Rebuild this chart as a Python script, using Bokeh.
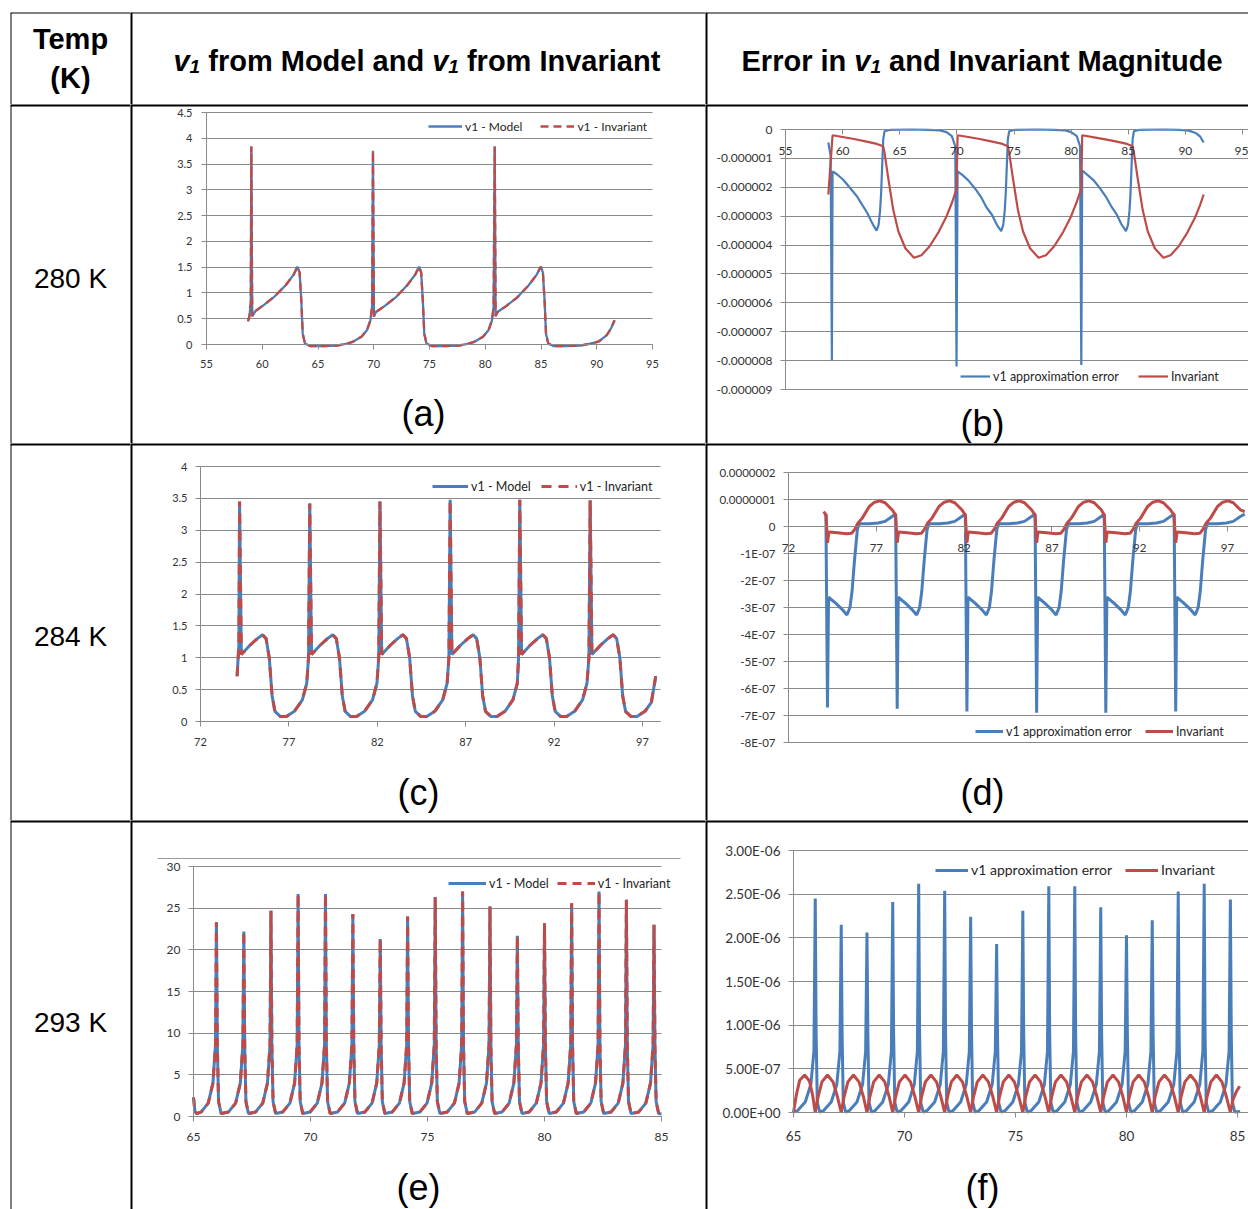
from bokeh.plotting import figure
from bokeh.models import (Range1d, FixedTicker, CustomJSTickFormatter, Label, Legend,
                          LegendItem, Span, Grid)
from bokeh.layouts import column, row
from bokeh.embed import file_html
from bokeh.resources import INLINE

# ---------------------------------------------------------------- data
# (a) 280 K : v1 from model / invariant
a_xticks = [55, 60, 65, 70, 75, 80, 85, 90, 95]
a_yticks = [0, 0.5, 1, 1.5, 2, 2.5, 3, 3.5, 4, 4.5]
a_ylabels = ["0", "0.5", "1", "1.5", "2", "2.5", "3", "3.5", "4", "4.5"]
a_x = [58.72, 58.85, 58.97, 59.02, 59.10, 59.20, 59.40, 60.10, 61.10, 62.10, 62.80, 63.15, 63.35,
       63.50, 63.63, 63.83, 64.30, 65.50, 66.70, 67.50, 68.10, 68.90, 69.40, 69.70, 69.85,
       69.93, 70.02, 70.20, 71.00, 72.00, 73.00, 73.70, 74.07, 74.25, 74.40, 74.53, 74.73, 75.20,
       76.40, 77.60, 78.40, 79.00, 79.80, 80.30, 80.60, 80.75,
       80.85, 80.93, 81.10, 81.90, 82.90, 83.90, 84.60, 84.98, 85.17, 85.32, 85.45, 85.65, 86.10,
       87.30, 88.50, 89.30, 89.90, 90.20, 90.90, 91.30, 91.60]
a_model = [0.45, 0.55, 0.80, 3.84, 0.55, 0.58, 0.65, 0.76, 0.93, 1.15, 1.35, 1.51, 1.40,
           0.86, 0.21, 0.02, -0.03, -0.03, -0.02, 0.01, 0.05, 0.15, 0.28, 0.47, 0.73,
           3.76, 0.54, 0.63, 0.75, 0.92, 1.15, 1.35, 1.51, 1.40, 0.86, 0.21, 0.02, -0.03,
           -0.03, -0.02, 0.01, 0.05, 0.15, 0.28, 0.47, 0.73,
           3.84, 0.55, 0.63, 0.75, 0.92, 1.15, 1.35, 1.51, 1.40, 0.86, 0.21, 0.02, -0.03,
           -0.03, -0.02, 0.01, 0.04, 0.06, 0.18, 0.32, 0.47]
a_invariant = list(a_model)          # the two curves coincide within the line width

# (b) 280 K : error in v1 and invariant (values read in units of 1e-6)
b_xticks = [55, 60, 65, 70, 75, 80, 85, 90, 95]
b_yticks = [0, -1e-6, -2e-6, -3e-6, -4e-6, -5e-6, -6e-6, -7e-6, -8e-6, -9e-6]
b_ylabels = ["0", "-0.000001", "-0.000002", "-0.000003", "-0.000004", "-0.000005",
             "-0.000006", "-0.000007", "-0.000008", "-0.000009"]
b_err_x = [58.75, 58.95, 59.06, 59.12, 59.5, 60.05, 60.6, 61.25, 61.7, 62.16, 62.6, 62.97, 63.15,
           63.28, 63.37, 63.46, 63.55, 63.67, 64.2, 66.0, 67.5, 68.5, 69.1, 69.56, 69.86, 69.97,
           70.06, 70.5, 71.0, 71.6, 72.15, 72.6, 73.07, 73.5, 73.88, 74.06, 74.19, 74.28, 74.37,
           74.46, 74.58, 75.1, 77.0, 78.5, 79.5, 80.0, 80.5, 80.78, 80.89,
           80.97, 81.4, 81.95, 82.5, 83.05, 83.5, 84.0, 84.4, 84.8, 84.98, 85.11, 85.2, 85.29,
           85.38, 85.5, 86.0, 88.0, 89.5, 90.3, 90.9, 91.3, 91.6]
b_err_u = [-0.45, -0.9, -8.0, -1.45, -1.55, -1.74, -2.0, -2.31, -2.6, -2.89, -3.25, -3.5, -3.3,
           -2.8, -2.2, -1.27, -0.35, -0.06, -0.01, 0.0, -0.01, -0.03, -0.09, -0.23, -0.58, -8.2,
           -1.45, -1.58, -1.76, -2.05, -2.36, -2.7, -2.95, -3.3, -3.52, -3.3, -2.8, -2.2, -1.27,
           -0.35, -0.06, -0.01, 0.0, -0.01, -0.03, -0.09, -0.23, -0.58, -8.15,
           -1.42, -1.56, -1.75, -2.02, -2.33, -2.65, -2.95, -3.28, -3.52, -3.3, -2.8, -2.2, -1.27,
           -0.35, -0.06, -0.01, 0.0, -0.01, -0.04, -0.12, -0.25, -0.45]
b_inv_x = [58.75, 59.12, 60.0, 61.0, 62.0, 63.0, 63.55, 63.67, 63.97, 64.43, 64.88, 65.49, 66.24,
           66.9, 67.6, 68.4, 69.1, 69.6, 69.97,
           70.06, 71.0, 72.0, 73.0, 74.0, 74.46, 74.58, 74.88, 75.34, 75.79, 76.4, 77.15, 77.8,
           78.5, 79.3, 80.0, 80.5, 80.89,
           80.97, 82.0, 83.0, 84.0, 84.9, 85.38, 85.5, 85.8, 86.26, 86.71, 87.32, 88.07, 88.7,
           89.4, 90.2, 90.9, 91.3, 91.6]
b_inv_u = [-2.25, -0.2, -0.26, -0.33, -0.41, -0.5, -0.58, -0.81, -1.62, -2.78, -3.53, -4.11, -4.44,
           -4.35, -4.05, -3.55, -3.0, -2.5, -2.05,
           -0.2, -0.26, -0.33, -0.41, -0.5, -0.58, -0.81, -1.62, -2.78, -3.53, -4.11, -4.44, -4.35,
           -4.05, -3.55, -3.0, -2.5, -2.05,
           -0.2, -0.27, -0.34, -0.42, -0.5, -0.58, -0.81, -1.62, -2.78, -3.53, -4.11, -4.44, -4.35,
           -4.05, -3.55, -3.0, -2.6, -2.25]

# (c) 284 K : v1 from model / invariant
c_xticks = [72, 77, 82, 87, 92, 97]
c_yticks = [0, 0.5, 1, 1.5, 2, 2.5, 3, 3.5, 4]
c_ylabels = ["0", "0.5", "1", "1.5", "2", "2.5", "3", "3.5", "4"]
c_x = [74.07, 74.17, 74.21, 74.31, 74.81, 75.21, 75.51, 75.71, 75.89, 76.05, 76.21, 76.51, 76.86,
       77.31, 77.76, 78.01, 78.11,
       78.18, 78.28, 78.78, 79.18, 79.48, 79.68, 79.86, 80.02, 80.18, 80.48, 80.83, 81.28, 81.73,
       81.98, 82.08,
       82.15, 82.25, 82.75, 83.15, 83.45, 83.65, 83.83, 83.99, 84.15, 84.45, 84.80, 85.25, 85.70,
       85.95, 86.05,
       86.12, 86.22, 86.72, 87.12, 87.42, 87.62, 87.80, 87.96, 88.12, 88.42, 88.77, 89.22, 89.67,
       89.92, 89.99,
       90.06, 90.16, 90.66, 91.06, 91.36, 91.56, 91.74, 91.90, 92.06, 92.36, 92.71, 93.16, 93.61,
       93.86, 93.97,
       94.04, 94.14, 94.64, 95.04, 95.34, 95.54, 95.72, 95.88, 96.04, 96.34, 96.69, 97.14, 97.50,
       97.75]
c_model = [0.71, 1.2, 3.45, 1.05, 1.2, 1.3, 1.36, 1.3, 1.0, 0.4, 0.16, 0.08, 0.08, 0.16, 0.34,
           0.6, 1.0,
           3.42, 1.05, 1.2, 1.3, 1.36, 1.3, 1.0, 0.4, 0.16, 0.08, 0.08, 0.16, 0.34, 0.6, 1.0,
           3.45, 1.05, 1.2, 1.3, 1.36, 1.3, 1.0, 0.4, 0.16, 0.08, 0.08, 0.16, 0.34, 0.6, 1.0,
           3.48, 1.05, 1.2, 1.3, 1.36, 1.3, 1.0, 0.4, 0.16, 0.08, 0.08, 0.16, 0.34, 0.6, 1.0,
           3.48, 1.05, 1.2, 1.3, 1.36, 1.3, 1.0, 0.4, 0.16, 0.08, 0.08, 0.16, 0.34, 0.6, 1.0,
           3.47, 1.05, 1.2, 1.3, 1.36, 1.3, 1.0, 0.4, 0.16, 0.08, 0.08, 0.16, 0.3, 0.71]
c_invariant = list(c_model)

# (d) 284 K : error in v1 and invariant (values read in units of 1e-7)
d_xticks = [72, 77, 82, 87, 92, 97]
d_yticks = [2e-7, 1e-7, 0, -1e-7, -2e-7, -3e-7, -4e-7, -5e-7, -6e-7, -7e-7, -8e-7]
d_ylabels = ["0.0000002", "0.0000001", "0", "-1E-07", "-2E-07", "-3E-07", "-4E-07", "-5E-07",
             "-6E-07", "-7E-07", "-8E-07"]
d_err_x = [74.02, 74.13, 74.22, 74.28, 74.70, 75.10, 75.33, 75.50, 75.62, 75.76, 75.92, 76.03,
           76.60, 77.10, 77.50, 77.90, 78.10,
           78.19, 78.25, 78.67, 79.07, 79.30, 79.47, 79.59, 79.73, 79.89, 80.00, 80.57, 81.07,
           81.47, 81.87, 82.07,
           82.16, 82.22, 82.64, 83.04, 83.27, 83.44, 83.56, 83.70, 83.86, 83.97, 84.54, 85.04,
           85.44, 85.84, 86.04,
           86.13, 86.19, 86.61, 87.01, 87.24, 87.41, 87.53, 87.67, 87.83, 87.94, 88.51, 89.01,
           89.41, 89.81, 89.98,
           90.07, 90.13, 90.55, 90.95, 91.18, 91.35, 91.47, 91.61, 91.77, 91.88, 92.45, 92.95,
           93.35, 93.75, 93.96,
           94.05, 94.11, 94.53, 94.93, 95.16, 95.33, 95.45, 95.59, 95.75, 95.86, 96.43, 96.93,
           97.33, 97.73, 97.98]
d_err_u = [0.45, 0.46, -6.7, -2.62, -2.85, -3.1, -3.28, -3.0, -2.4, -1.24, -0.12, 0.1,
           0.1, 0.13, 0.19, 0.37, 0.46,
           -6.75, -2.62, -2.85, -3.1, -3.28, -3.0, -2.4, -1.24, -0.12, 0.1, 0.1, 0.13, 0.19, 0.37, 0.46,
           -6.85, -2.62, -2.85, -3.1, -3.28, -3.0, -2.4, -1.24, -0.12, 0.1, 0.1, 0.13, 0.19, 0.37, 0.46,
           -6.9, -2.62, -2.85, -3.1, -3.28, -3.0, -2.4, -1.24, -0.12, 0.1, 0.1, 0.13, 0.19, 0.37, 0.46,
           -6.9, -2.62, -2.85, -3.1, -3.28, -3.0, -2.4, -1.24, -0.12, 0.1, 0.1, 0.13, 0.19, 0.37, 0.46,
           -6.85, -2.62, -2.85, -3.1, -3.28, -3.0, -2.4, -1.24, -0.12, 0.1, 0.1, 0.13, 0.19, 0.37, 0.46]
d_inv_x = [74.00, 74.14, 74.22, 74.30, 74.80, 75.30, 75.60, 75.78, 75.95, 76.20, 76.60, 76.90,
           77.20, 77.50, 77.90, 78.10,
           78.19, 78.27, 78.77, 79.27, 79.57, 79.75, 79.92, 80.17, 80.57, 80.87, 81.17, 81.47,
           81.87, 82.07,
           82.16, 82.24, 82.74, 83.24, 83.54, 83.72, 83.89, 84.14, 84.54, 84.84, 85.14, 85.44,
           85.84, 86.04,
           86.13, 86.21, 86.71, 87.21, 87.51, 87.69, 87.86, 88.11, 88.51, 88.81, 89.11, 89.41,
           89.81, 89.98,
           90.07, 90.15, 90.65, 91.15, 91.45, 91.63, 91.80, 92.05, 92.45, 92.75, 93.05, 93.35,
           93.75, 93.95,
           94.05, 94.13, 94.63, 95.13, 95.43, 95.61, 95.78, 96.03, 96.43, 96.73, 97.03, 97.33,
           97.73, 97.98]
d_inv_u = [0.55, 0.42, -0.6, -0.2, -0.23, -0.27, -0.25, -0.1, 0.12, 0.31, 0.74, 0.9, 0.95, 0.88,
           0.62, 0.43,
           -0.6, -0.2, -0.23, -0.27, -0.25, -0.1, 0.12, 0.31, 0.74, 0.9, 0.95, 0.88, 0.62, 0.43,
           -0.6, -0.2, -0.23, -0.27, -0.25, -0.1, 0.12, 0.31, 0.74, 0.9, 0.95, 0.88, 0.62, 0.43,
           -0.6, -0.2, -0.23, -0.27, -0.25, -0.1, 0.12, 0.31, 0.74, 0.9, 0.95, 0.88, 0.62, 0.43,
           -0.6, -0.2, -0.23, -0.27, -0.25, -0.1, 0.12, 0.31, 0.74, 0.9, 0.95, 0.88, 0.62, 0.43,
           -0.6, -0.2, -0.23, -0.27, -0.25, -0.1, 0.12, 0.31, 0.74, 0.9, 0.95, 0.88, 0.62, 0.55]

# (e) 293 K : v1 from model / invariant
e_xticks = [65, 70, 75, 80, 85]
e_yticks = [0, 5, 10, 15, 20, 25, 30]
e_ylabels = ["0", "5", "10", "15", "20", "25", "30"]
e_x = [65.00, 65.06, 65.15,
       65.33, 65.63, 65.83, 65.94, 65.98, 66.02, 66.07, 66.18,
       66.50, 66.80, 67.00, 67.11, 67.15, 67.19, 67.24, 67.35,
       67.66, 67.96, 68.16, 68.27, 68.31, 68.35, 68.40, 68.51,
       68.82, 69.12, 69.32, 69.43, 69.47, 69.51, 69.56, 69.67,
       69.99, 70.29, 70.49, 70.60, 70.64, 70.68, 70.73, 70.84,
       71.16, 71.46, 71.66, 71.77, 71.81, 71.85, 71.90, 72.01,
       72.33, 72.63, 72.83, 72.94, 72.98, 73.02, 73.07, 73.18,
       73.50, 73.80, 74.00, 74.11, 74.15, 74.19, 74.24, 74.35,
       74.68, 74.98, 75.18, 75.29, 75.33, 75.37, 75.42, 75.53,
       75.85, 76.15, 76.35, 76.46, 76.50, 76.54, 76.59, 76.70,
       77.02, 77.32, 77.52, 77.63, 77.67, 77.71, 77.76, 77.87,
       78.19, 78.49, 78.69, 78.80, 78.84, 78.88, 78.93, 79.04,
       79.35, 79.65, 79.85, 79.96, 80.00, 80.04, 80.09, 80.20,
       80.51, 80.81, 81.01, 81.12, 81.16, 81.20, 81.25, 81.36,
       81.68, 81.98, 82.18, 82.29, 82.33, 82.37, 82.42, 82.53,
       82.85, 83.15, 83.35, 83.46, 83.50, 83.54, 83.59, 83.70,
       84.03, 84.33, 84.53, 84.64, 84.68, 84.72, 84.77, 84.88,
       85.00]
e_model = [2.3, 0.6, 0.35,
           0.55, 1.6, 4.0, 8.6, 23.3, 8.4, 1.8, 0.35,
           0.55, 1.6, 4.0, 8.6, 22.2, 8.4, 1.8, 0.35,
           0.55, 1.6, 4.0, 8.6, 24.7, 8.4, 1.8, 0.35,
           0.55, 1.6, 4.0, 8.6, 26.7, 8.4, 1.8, 0.35,
           0.55, 1.6, 4.0, 8.6, 26.7, 8.4, 1.8, 0.35,
           0.55, 1.6, 4.0, 8.6, 24.3, 8.4, 1.8, 0.35,
           0.55, 1.6, 4.0, 8.6, 21.3, 8.4, 1.8, 0.35,
           0.55, 1.6, 4.0, 8.6, 24.0, 8.4, 1.8, 0.35,
           0.55, 1.6, 4.0, 8.6, 26.3, 8.4, 1.8, 0.35,
           0.55, 1.6, 4.0, 8.6, 27.0, 8.4, 1.8, 0.35,
           0.55, 1.6, 4.0, 8.6, 25.2, 8.4, 1.8, 0.35,
           0.55, 1.6, 4.0, 8.6, 21.7, 8.4, 1.8, 0.35,
           0.55, 1.6, 4.0, 8.6, 23.2, 8.4, 1.8, 0.35,
           0.55, 1.6, 4.0, 8.6, 25.6, 8.4, 1.8, 0.35,
           0.55, 1.6, 4.0, 8.6, 27.0, 8.4, 1.8, 0.35,
           0.55, 1.6, 4.0, 8.6, 26.0, 8.4, 1.8, 0.35,
           0.55, 1.6, 4.0, 8.6, 23.0, 8.4, 1.8, 0.35,
           0.3]
e_invariant = list(e_model)

# (f) 293 K : error in v1 and invariant (values read in units of 1e-7)
f_xticks = [65, 70, 75, 80, 85]
f_yticks = [0, 5e-7, 1e-6, 1.5e-6, 2e-6, 2.5e-6, 3e-6]
f_ylabels = ["0.00E+00", "5.00E-07", "1.00E-06", "1.50E-06", "2.00E-06", "2.50E-06", "3.00E-06"]
f_err_x = [65.00,
           65.18, 65.53, 65.78, 65.92, 65.98, 66.02, 66.07, 66.18,
           66.35, 66.70, 66.95, 67.09, 67.15, 67.19, 67.24, 67.35,
           67.51, 67.86, 68.11, 68.25, 68.31, 68.35, 68.40, 68.51,
           68.67, 69.02, 69.27, 69.41, 69.47, 69.51, 69.56, 69.67,
           69.84, 70.19, 70.44, 70.58, 70.64, 70.68, 70.73, 70.84,
           71.01, 71.36, 71.61, 71.75, 71.81, 71.85, 71.90, 72.01,
           72.18, 72.53, 72.78, 72.92, 72.98, 73.02, 73.07, 73.18,
           73.35, 73.70, 73.95, 74.09, 74.15, 74.19, 74.24, 74.35,
           74.53, 74.88, 75.13, 75.27, 75.33, 75.37, 75.42, 75.53,
           75.70, 76.05, 76.30, 76.44, 76.50, 76.54, 76.59, 76.70,
           76.87, 77.22, 77.47, 77.61, 77.67, 77.71, 77.76, 77.87,
           78.04, 78.39, 78.64, 78.78, 78.84, 78.88, 78.93, 79.04,
           79.20, 79.55, 79.80, 79.94, 80.00, 80.04, 80.09, 80.20,
           80.36, 80.71, 80.96, 81.10, 81.16, 81.20, 81.25, 81.36,
           81.53, 81.88, 82.13, 82.27, 82.33, 82.37, 82.42, 82.53,
           82.70, 83.05, 83.30, 83.44, 83.50, 83.54, 83.59, 83.70,
           83.88, 84.23, 84.48, 84.62, 84.68, 84.72, 84.77, 84.88,
           85.12]
f_err_u = [0.05,
           0.2, 1.2, 3.2, 7.0, 24.5, 9.0, 1.2, 0.05,
           0.2, 1.2, 3.2, 7.0, 21.5, 9.0, 1.2, 0.05,
           0.2, 1.2, 3.2, 7.0, 20.6, 9.0, 1.2, 0.05,
           0.2, 1.2, 3.2, 7.0, 24.1, 9.0, 1.2, 0.05,
           0.2, 1.2, 3.2, 7.0, 26.2, 9.0, 1.2, 0.05,
           0.2, 1.2, 3.2, 7.0, 25.4, 9.0, 1.2, 0.05,
           0.2, 1.2, 3.2, 7.0, 22.4, 9.0, 1.2, 0.05,
           0.2, 1.2, 3.2, 7.0, 19.3, 9.0, 1.2, 0.05,
           0.2, 1.2, 3.2, 7.0, 23.1, 9.0, 1.2, 0.05,
           0.2, 1.2, 3.2, 7.0, 25.9, 9.0, 1.2, 0.05,
           0.2, 1.2, 3.2, 7.0, 25.9, 9.0, 1.2, 0.05,
           0.2, 1.2, 3.2, 7.0, 23.5, 9.0, 1.2, 0.05,
           0.2, 1.2, 3.2, 7.0, 20.3, 9.0, 1.2, 0.05,
           0.2, 1.2, 3.2, 7.0, 22.0, 9.0, 1.2, 0.05,
           0.2, 1.2, 3.2, 7.0, 25.3, 9.0, 1.2, 0.05,
           0.2, 1.2, 3.2, 7.0, 26.2, 9.0, 1.2, 0.05,
           0.2, 1.2, 3.2, 7.0, 24.4, 9.0, 1.2, 0.05,
           0.12]
f_inv_x = [65.00, 65.12, 65.28, 65.50, 65.72, 65.86,
           65.98, 66.10, 66.28, 66.53, 66.78, 66.98,
           67.15, 67.27, 67.45, 67.70, 67.95, 68.15,
           68.31, 68.43, 68.61, 68.86, 69.11, 69.31,
           69.47, 69.59, 69.77, 70.02, 70.27, 70.47,
           70.64, 70.76, 70.94, 71.19, 71.44, 71.64,
           71.81, 71.93, 72.11, 72.36, 72.61, 72.81,
           72.98, 73.10, 73.28, 73.53, 73.78, 73.98,
           74.15, 74.27, 74.45, 74.70, 74.95, 75.15,
           75.33, 75.45, 75.63, 75.88, 76.13, 76.33,
           76.50, 76.62, 76.80, 77.05, 77.30, 77.50,
           77.67, 77.79, 77.97, 78.22, 78.47, 78.67,
           78.84, 78.96, 79.14, 79.39, 79.64, 79.84,
           80.00, 80.12, 80.30, 80.55, 80.80, 81.00,
           81.16, 81.28, 81.46, 81.71, 81.96, 82.16,
           82.33, 82.45, 82.63, 82.88, 83.13, 83.33,
           83.50, 83.62, 83.80, 84.05, 84.30, 84.50,
           84.68, 84.80, 84.95, 85.10]
f_inv_u = [0.0, 1.9, 3.7, 4.3, 3.6, 2.0,
           0.0, 1.7, 3.5, 4.3, 3.5, 1.8,
           0.0, 1.7, 3.5, 4.3, 3.5, 1.8,
           0.0, 1.7, 3.5, 4.3, 3.5, 1.8,
           0.0, 1.7, 3.5, 4.3, 3.5, 1.8,
           0.0, 1.7, 3.5, 4.3, 3.5, 1.8,
           0.0, 1.7, 3.5, 4.3, 3.5, 1.8,
           0.0, 1.7, 3.5, 4.3, 3.5, 1.8,
           0.0, 1.7, 3.5, 4.3, 3.5, 1.8,
           0.0, 1.7, 3.5, 4.3, 3.5, 1.8,
           0.0, 1.7, 3.5, 4.3, 3.5, 1.8,
           0.0, 1.7, 3.5, 4.3, 3.5, 1.8,
           0.0, 1.7, 3.5, 4.3, 3.5, 1.8,
           0.0, 1.7, 3.5, 4.3, 3.5, 1.8,
           0.0, 1.7, 3.5, 4.3, 3.5, 1.8,
           0.0, 1.7, 3.5, 4.3, 3.5, 1.8,
           0.0, 1.7, 3.5, 4.3, 3.5, 1.8,
           0.0, 1.5, 2.4, 3.0]

temps = ["280 K", "284 K", "293 K"]
panel_tags = ["(a)", "(b)", "(c)", "(d)", "(e)", "(f)"]

# unit conversions (values above were read in micro / 1e-7 units)
b_err = [v * 1e-6 for v in b_err_u]
b_inv = [v * 1e-6 for v in b_inv_u]
d_err = [v * 1e-7 for v in d_err_u]
d_inv = [v * 1e-7 for v in d_inv_u]
f_err = [v * 1e-7 for v in f_err_u]
f_inv = [v * 1e-7 for v in f_inv_u]

# ---------------------------------------------------------------- style
BLUE = "#4A7EBB"
RED = "#BE4B48"
GRIDC = "#8A8A8A"
TXT = "#333333"
TFONT = "Liberation Sans"
CFONT = "Lato"

COLX = [0, 130, 705, 1248]
ROWY = [0, 104, 443, 820, 1209]

BOLD_W = {" ": 278, "E": 667, "r": 389, "o": 611, "i": 278, "n": 611, "v": 556, "a": 556,
          "d": 611, "I": 278, "t": 333, "M": 833, "g": 611, "u": 611, "e": 556, "f": 333,
          "m": 889, "l": 278, "1": 556}


def tw(s, size):
    return sum(BOLD_W[c] for c in s) * size / 1000.0


def borders(p, wt=4, wl=4):
    """Cell rule lines: each cell draws its own top and left edge."""
    xr, yr = p.x_range, p.y_range
    p.add_layout(Span(location=yr.end, dimension="width", line_color="black", line_width=wt))
    p.add_layout(Span(location=xr.start, dimension="height", line_color="black", line_width=wl))


def blank(w, h, left=0, top=0):
    p = figure(width=w, height=h, x_range=Range1d(0, 1), y_range=Range1d(0, 1),
               x_axis_type=None, y_axis_type=None, toolbar_location=None,
               output_backend="svg", min_border=0, min_border_left=left, min_border_top=top,
               outline_line_color=None, background_fill_color="white",
               border_fill_color="white")
    return p


def lab(p, x, y, text, size, style="normal", align="left", baseline="alphabetic"):
    p.add_layout(Label(x=x, y=y, x_units="screen", y_units="screen", text=text,
                       text_font=TFONT, text_font_style=style, text_font_size=f"{size}px",
                       text_align=align, text_baseline=baseline, text_color="black"))


def rich(p, x, y, tokens):
    for text, style, size, dy in tokens:
        if text.strip():
            lab(p, x, y + dy, text, size, style)
        x += tw(text, size)


def chart(cell, xa, pxa, xb, pxb, ya, pya, yb, pyb, xticks, yticks, ylabels, xhi, fs,
          xstand, ystand):
    L, T, R, B = cell
    W, H = R - L, B - T
    kx = (pxb - pxa) / (xb - xa)
    ky = (pya - pyb) / (yb - ya)
    xr = Range1d(xa - (pxa - L) / kx, xa + (R - pxa) / kx)
    yr = Range1d(ya - (B - pya) / ky, ya + (pya - T) / ky)
    p = figure(width=W, height=H, x_range=xr, y_range=yr, toolbar_location=None,
               output_backend="svg", min_border=0, outline_line_color=None,
               background_fill_color="white", border_fill_color="white")
    xax, yax = p.xaxis[0], p.yaxis[0]
    xax.fixed_location = 0
    yax.fixed_location = xticks[0]
    xax.ticker = FixedTicker(ticks=xticks)
    yax.ticker = FixedTicker(ticks=yticks)
    xax.bounds = (xticks[0], xhi)
    span = max(yticks) - min(yticks)
    yax.bounds = (min(yticks) - span * 1e-6, max(yticks) + span * 1e-6)
    yax.formatter = CustomJSTickFormatter(args=dict(vals=list(yticks), labs=list(ylabels)), code="""
        let b = 0, d = Infinity;
        for (let i = 0; i < vals.length; i++) {
            const e = Math.abs(vals[i] - tick);
            if (e < d) { d = e; b = i; }
        }
        return labs[b];
    """)
    for ax in (xax, yax):
        ax.axis_line_color = GRIDC
        ax.major_tick_line_color = GRIDC
        ax.major_tick_out = 5
        ax.major_tick_in = 0
        ax.minor_tick_line_color = None
        ax.major_label_text_font = CFONT
        ax.major_label_text_font_size = fs
        ax.major_label_text_color = TXT
    xax.major_label_standoff = xstand
    yax.major_label_standoff = ystand
    p.xgrid.visible = False
    g = p.ygrid[0]
    g.ticker = FixedTicker(ticks=yticks)
    g.grid_line_color = GRIDC
    g.grid_line_width = 1
    if "cross_bounds" in Grid.properties():
        g.cross_bounds = (xticks[0], xhi)
    else:
        g.visible = False
        n = len(yticks)
        p.segment(x0=[xticks[0]] * n, y0=yticks, x1=[xhi] * n, y1=yticks,
                  line_color=GRIDC, line_width=1, level="underlay")
    p.tags = [L, T, kx, ky, xa, pxa, ya, pya]
    return p


def to_data(p, px, py):
    L, T, kx, ky, xa, pxa, ya, pya = p.tags
    return xa + (px - pxa) / kx, ya + (pya - py) / ky


def add_legend(p, cell, r1, r2, lab1, lab2, x_abs, yc_abs, gw, spacing, fs):
    L, T, R, B = cell
    h = 16
    leg = Legend(items=[LegendItem(label=lab1, renderers=[r1]),
                        LegendItem(label=lab2, renderers=[r2])],
                 location=(x_abs - L, B - (yc_abs + h / 2)), orientation="horizontal",
                 glyph_width=gw, glyph_height=h, label_height=h, label_standoff=3,
                 spacing=spacing, padding=0, margin=0, border_line_color=None,
                 background_fill_alpha=0, label_text_font=CFONT,
                 label_text_font_size=fs, label_text_color="#262626")
    p.add_layout(leg)


def tag(p, cell, x_abs, y_abs, text):
    L, T, R, B = cell
    lab(p, x_abs - L, B - y_abs, text, 36, "normal", "center", "middle")


# ---------------------------------------------------------------- header row
h0 = blank(COLX[1], ROWY[1], left=10, top=12)
borders(h0, wt=2, wl=2)
lab(h0, 60, 66, "Temp", 29, "bold", "center")
lab(h0, 60, 27, "(K)", 29, "bold", "center")

h1 = blank(COLX[2] - COLX[1], ROWY[1], top=12)
borders(h1, wt=2, wl=4)
rich(h1, 43, 44, [("v", "bold italic", 29, 0), ("1", "bold italic", 19, -6),
                  (" ", "bold", 29, 0), ("from Model and", "bold", 29, 0),
                  (" ", "bold", 29, 0), ("v", "bold italic", 29, 0),
                  ("1", "bold italic", 19, -6), (" ", "bold", 29, 0),
                  ("from Invariant", "bold", 29, 0)])

h2 = blank(COLX[3] - COLX[2], ROWY[1], top=12)
borders(h2, wt=2, wl=4)
rich(h2, 36, 44, [("Error in", "bold", 29, 0), (" ", "bold", 29, 0),
                  ("v", "bold italic", 29, 0), ("1", "bold italic", 19, -6),
                  (" ", "bold", 29, 0), ("and Invariant Magnitude", "bold", 29, 0)])

# ---------------------------------------------------------------- temperature column
tcols = []
for i, t in enumerate(temps):
    hh = ROWY[i + 2] - ROWY[i + 1]
    p = blank(COLX[1], hh, left=10)
    borders(p, wt=4, wl=2)
    tcols.append(p)
temp_y = [278, 636, 1022]
for i in range(3):
    lab(tcols[i], 60, ROWY[i + 2] - temp_y[i], temps[i], 28, "normal", "center", "middle")

# ---------------------------------------------------------------- (a)
ca = (COLX[1], ROWY[1], COLX[2], ROWY[2])
pa = chart(ca, 55, 206, 95, 652, 0, 344, 4.5, 112, a_xticks, a_yticks, a_ylabels, 95,
           "11px", 10, 9)
ra1 = pa.line(a_x, a_model, line_color=BLUE, line_width=2.3)
ra2 = pa.line(a_x, a_invariant, line_color=RED, line_width=2.3, line_dash="8 5")
add_legend(pa, ca, ra1, ra2, "v1 - Model", "v1 - Invariant", 428, 126, 34, 18, "12px")
borders(pa)
tag(pa, ca, 423, 413, panel_tags[0])

# ---------------------------------------------------------------- (b)
cb = (COLX[2], ROWY[1], COLX[3], ROWY[2])
pb = chart(cb, 55, 785, 95, 1242, -9e-6, 389, 0, 129, b_xticks, b_yticks, b_ylabels,
           96, "12px", 12, 8)
rb1 = pb.line(b_err_x, b_err, line_color=BLUE, line_width=2.2)
rb2 = pb.line(b_inv_x, b_inv, line_color=RED, line_width=2.2)
add_legend(pb, cb, rb1, rb2, "v1 approximation error", "Invariant", 960, 376, 30, 19, "12.5px")
borders(pb)
tag(pb, cb, 982, 423, panel_tags[1])

# ---------------------------------------------------------------- (c)
cc = (COLX[1], ROWY[2], COLX[2], ROWY[3])
pc = chart(cc, 72, 200, 97, 642, 0, 721, 4, 466, c_xticks, c_yticks, c_ylabels, 98,
           "11px", 11, 8)
rc1 = pc.line(c_x, c_model, line_color=BLUE, line_width=3)
rc2 = pc.line(c_x, c_invariant, line_color=RED, line_width=3, line_dash="10 7")
add_legend(pc, cc, rc1, rc2, "v1 - Model", "v1 - Invariant", 432, 486, 36, 10, "12.5px")
borders(pc)
tag(pc, cc, 418, 792, panel_tags[2])

# ---------------------------------------------------------------- (d)
cd = (COLX[2], ROWY[2], COLX[3], ROWY[3])
pd_ = chart(cd, 72, 788, 97, 1227, -8e-7, 742, 2e-7, 472, d_xticks, d_yticks, d_ylabels,
            98.5, "11.5px", 12, 8)
rd1 = pd_.line(d_err_x, d_err, line_color=BLUE, line_width=3)
rd2 = pd_.line(d_inv_x, d_inv, line_color=RED, line_width=3)
add_legend(pd_, cd, rd1, rd2, "v1 approximation error", "Invariant", 975, 731, 28, 13, "12.5px")
borders(pd_)
tag(pd_, cd, 982, 792, panel_tags[3])

# ---------------------------------------------------------------- (e)
ce = (COLX[1], ROWY[3], COLX[2], ROWY[4])
pe = chart(ce, 65, 193, 85, 661, 0, 1116, 30, 866, e_xticks, e_yticks, e_ylabels, 85,
           "12px", 11, 8)
# thin chart-area border line above the plot area
(tx0, ty0), (tx1, _) = to_data(pe, 157, 858), to_data(pe, 680, 858)
pe.segment(x0=[tx0], y0=[ty0], x1=[tx1], y1=[ty0], line_color="#9A9A9A", line_width=1.2)
re1 = pe.line(e_x, e_model, line_color=BLUE, line_width=3)
re2 = pe.line(e_x, e_invariant, line_color=RED, line_width=3, line_dash="9 6")
add_legend(pe, ce, re1, re2, "v1 - Model", "v1 - Invariant", 448, 883, 38, 8, "12.5px")
borders(pe)
tag(pe, ce, 418, 1187, panel_tags[4])

# ---------------------------------------------------------------- (f)
cf = (COLX[2], ROWY[3], COLX[3], ROWY[4])
pf = chart(cf, 65, 793, 85, 1237, 0, 1112, 3e-6, 850, f_xticks, f_yticks, f_ylabels, 85.5,
           "13.5px", 13, 8)
rf1 = pf.line(f_err_x, f_err, line_color=BLUE, line_width=3)
rf2 = pf.line(f_inv_x, f_inv, line_color=RED, line_width=3)
add_legend(pf, cf, rf1, rf2, "v1 approximation error", "Invariant", 935, 870, 33, 13, "14px")
borders(pf)
tag(pf, cf, 982, 1187, panel_tags[5])

layout = column(row(h0, h1, h2, spacing=0),
                row(tcols[0], pa, pb, spacing=0),
                row(tcols[1], pc, pd_, spacing=0),
                row(tcols[2], pe, pf, spacing=0),
                spacing=0)

open("out.html", "w").write(file_html(layout, INLINE, title="v1 model vs invariant"))
